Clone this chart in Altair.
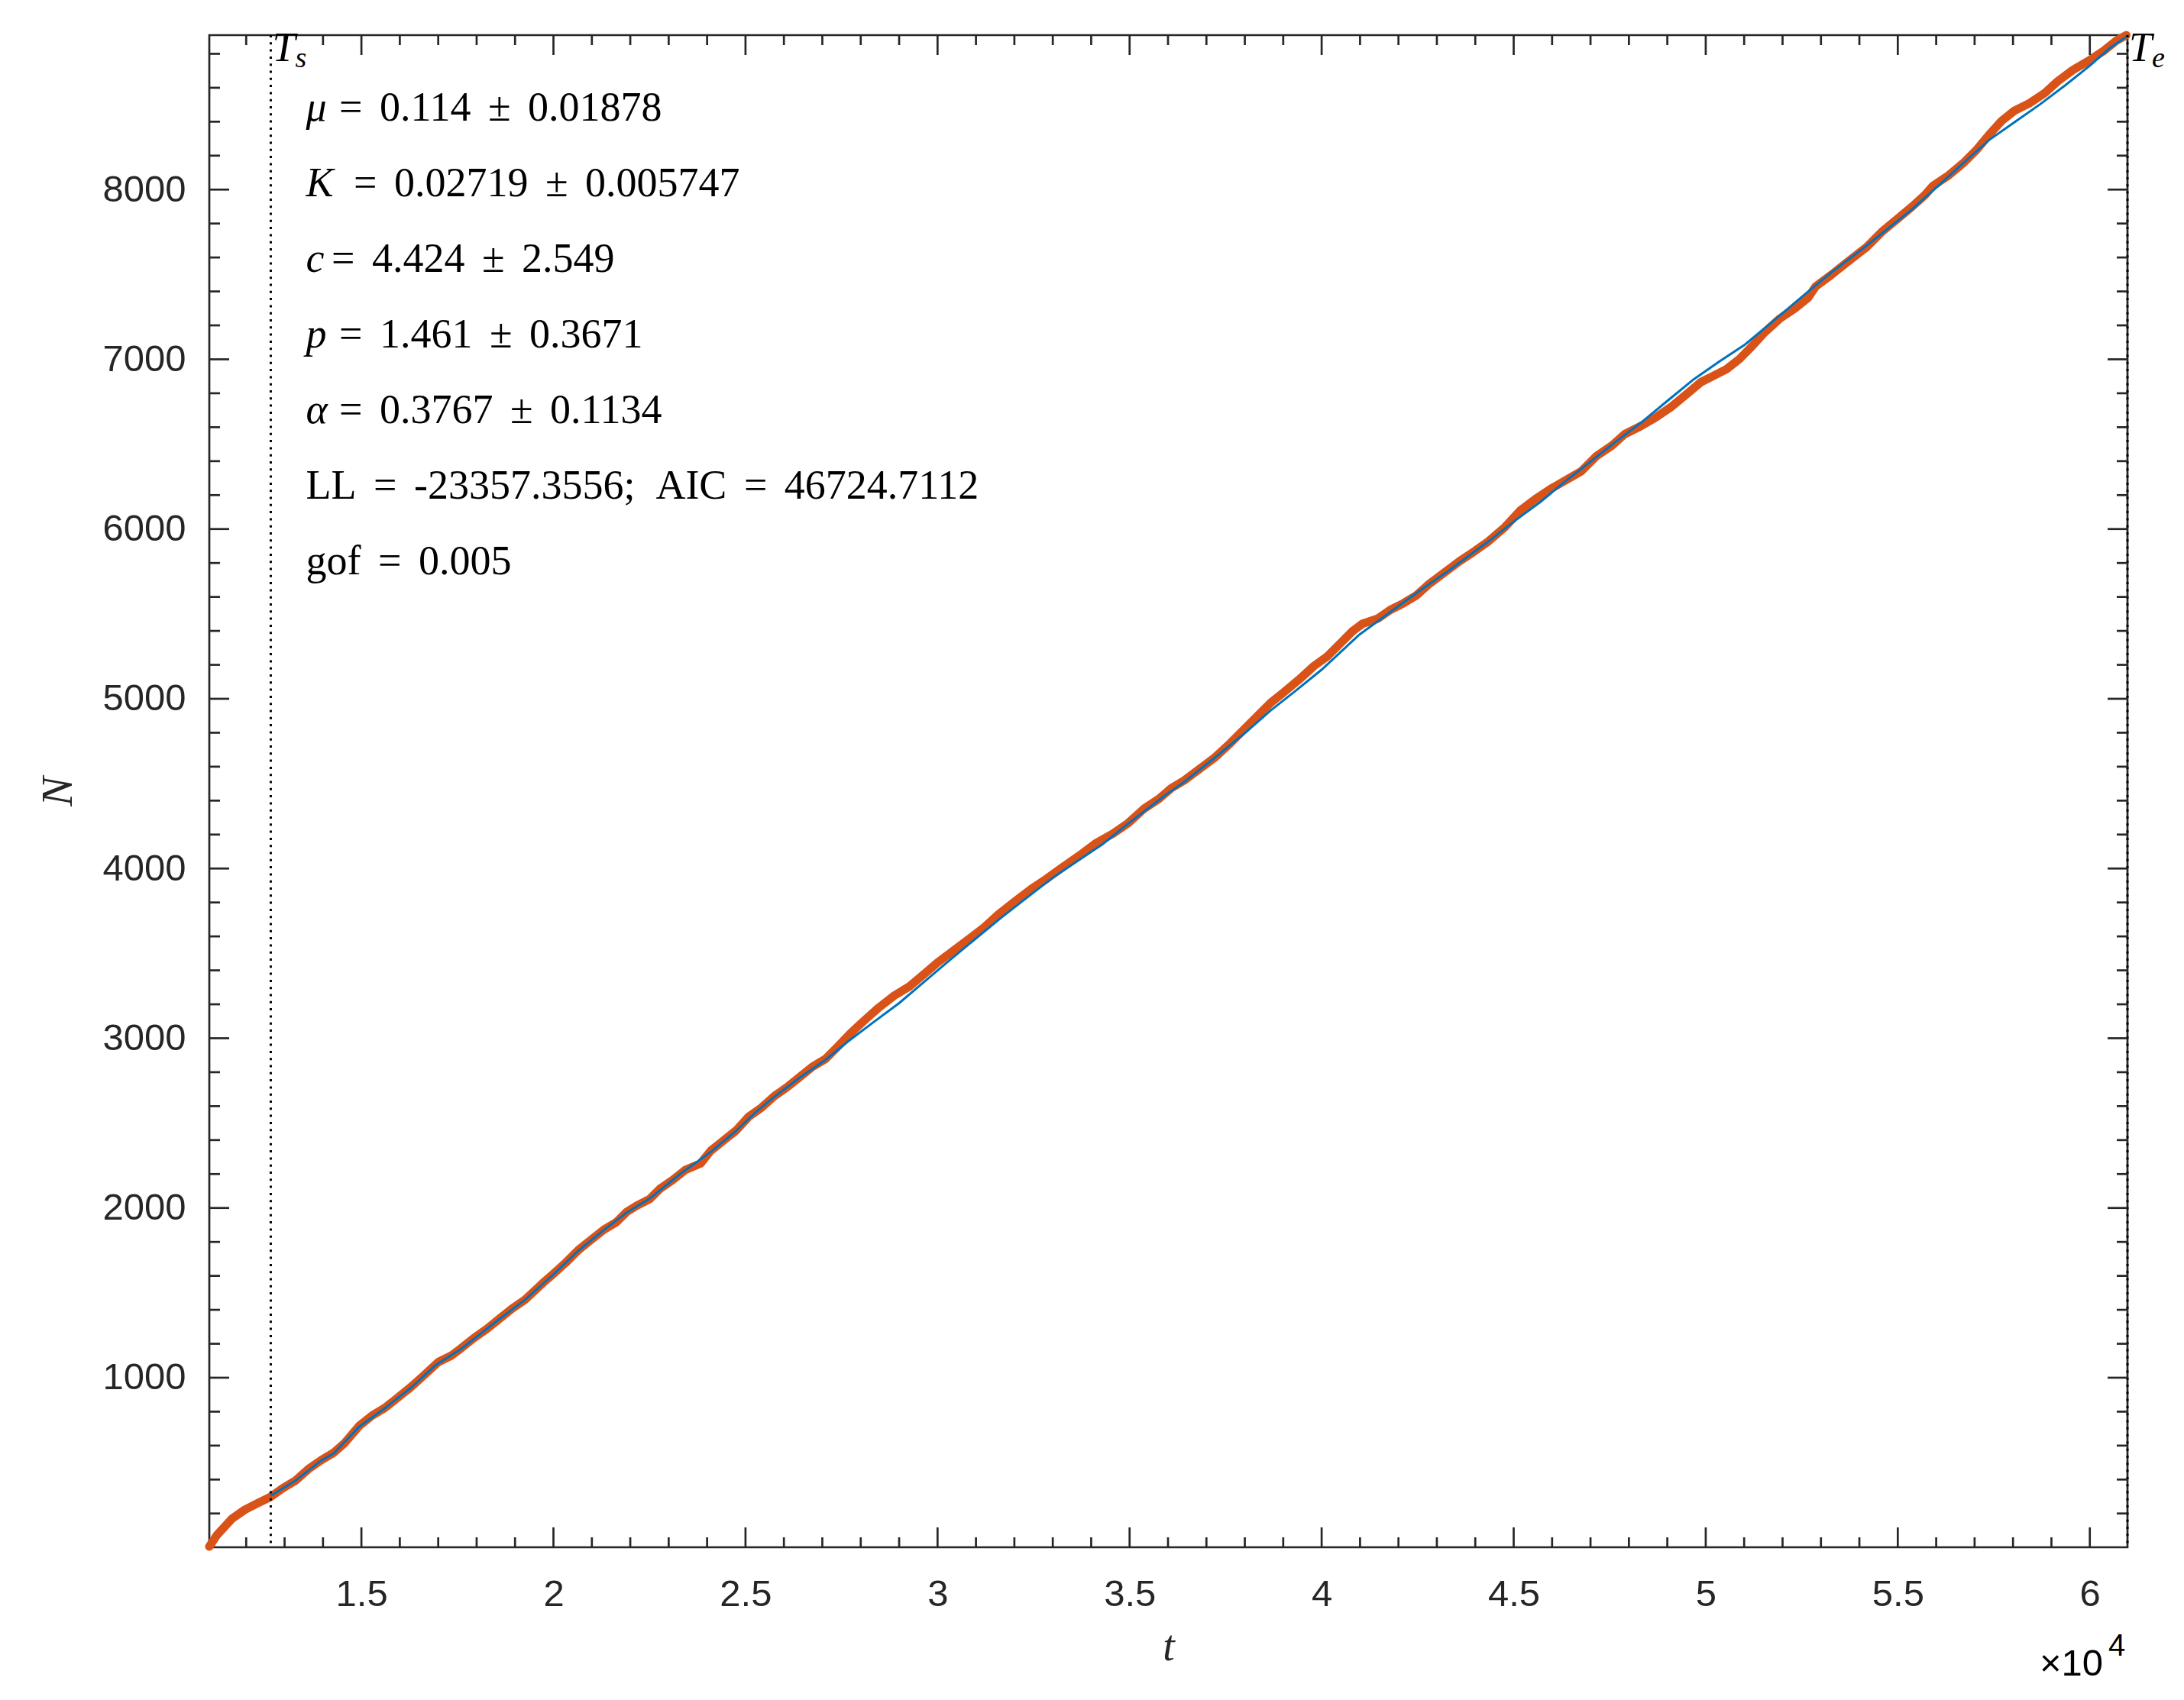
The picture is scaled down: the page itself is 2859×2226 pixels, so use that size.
import altair as alt
import pandas as pd

# ---------------- data ----------------
t_obs = [11040, 11235, 11633, 11965, 12297, 12627, 12959, 13291, 13621, 13953,
         14285, 14550, 14947, 15280, 15610, 15942, 16274, 16604, 17002, 17334,
         17598, 17930, 18262, 18592, 18924, 19256, 19720, 19984, 20316, 20648,
         20978, 21310, 21642, 21907, 22172, 22504, 22768, 23100, 23432, 23830,
         24094, 24426, 24758, 25088, 25420, 25751, 26083, 26415, 26745, 27077,
         27409, 27739, 28071, 28469, 28867, 29265, 29662, 29994, 30392, 30790,
         31187, 31585, 31983, 32446, 32844, 33307, 33705, 34103, 34568, 34966,
         35363, 35761, 36091, 36423, 36821, 37219, 37616, 38014, 38412, 38676,
         39008, 39406, 39804, 40135, 40533, 40798, 41063, 41461, 41792, 42124,
         42455, 42787, 43185, 43583, 43980, 44312, 44774, 45172, 45570, 45968,
         46366, 46763, 47161, 47559, 47890, 48288, 48686, 49084, 49482, 49879,
         50211, 50542, 50873, 51205, 51536, 51934, 52332, 52663, 52862, 53260,
         53723, 54186, 54584, 54982, 55380, 55711, 55910, 56308, 56705, 57037,
         57369, 57700, 58032, 58430, 58828, 59159, 59557, 59955, 60353, 60684,
         60950]
n_obs = [5, 72, 170, 222, 260, 297, 350, 395, 462, 514,
         559, 612, 717, 777, 822, 882, 942, 1009, 1092, 1129,
         1174, 1234, 1287, 1347, 1407, 1459, 1557, 1609, 1677, 1752,
         1812, 1872, 1917, 1977, 2014, 2052, 2112, 2164, 2224, 2262,
         2337, 2397, 2457, 2539, 2592, 2659, 2712, 2772, 2832, 2877,
         2952, 3030, 3100, 3180, 3250, 3305, 3380, 3445, 3512, 3580,
         3648, 3730, 3800, 3880, 3940, 4016, 4078, 4146, 4206, 4268,
         4350, 4410, 4474, 4519, 4587, 4654, 4737, 4827, 4917, 4977,
         5037, 5112, 5194, 5247, 5337, 5397, 5442, 5472, 5524, 5562,
         5607, 5674, 5742, 5809, 5869, 5922, 6012, 6109, 6177, 6237,
         6289, 6341, 6431, 6492, 6559, 6604, 6656, 6717, 6791, 6866,
         6904, 6942, 7001, 7077, 7159, 7241, 7302, 7362, 7429, 7496,
         7579, 7661, 7751, 7826, 7901, 7969, 8021, 8081, 8156, 8231,
         8321, 8404, 8464, 8509, 8569, 8637, 8704, 8757, 8816, 8876,
         8910]

t_fit = [12640, 13291, 13953, 14285, 14947, 15610, 16274, 16940, 17598, 17930,
         18592, 19256, 19984, 20648, 21310, 21907, 22504, 23299, 24094, 24758,
         25287, 25751, 26415, 27077, 27673, 28334, 29000, 29663, 30325, 30988,
         31651, 32314, 32977, 33640, 34301, 34966, 35960, 36423, 37351, 38014,
         38676, 39339, 40002, 40962, 41956, 42636, 43317, 44312, 45038, 45702,
         46366, 47028, 47691, 48354, 49017, 49680, 50342, 51005, 51834, 52663,
         53260, 54054, 54717, 55380, 56043, 56705, 57369, 58032, 58696, 59358,
         60021, 60500, 60980]
n_fit = [305, 395, 512, 555, 712, 820, 938, 1075, 1170, 1228,
         1345, 1458, 1605, 1748, 1870, 1973, 2055, 2200, 2330, 2455,
         2569, 2655, 2768, 2872, 2982, 3095, 3207, 3335, 3462, 3586,
         3709, 3826, 3942, 4044, 4144, 4265, 4437, 4510, 4677, 4800,
         4932, 5050, 5172, 5374, 5539, 5650, 5756, 5922, 6050, 6161,
         6285, 6402, 6520, 6634, 6758, 6881, 6985, 7084, 7240, 7399,
         7510, 7646, 7765, 7886, 8020, 8156, 8291, 8396, 8501, 8614,
         8734, 8830, 8906]

T_START = 12640
T_END = 60980
X_DOMAIN = [11040, 60980]
Y_DOMAIN = [1, 8910]

x_major = [15000, 20000, 25000, 30000, 35000, 40000, 45000, 50000, 55000, 60000]
x_minor = [v for v in range(12000, 61000, 1000) if v % 5000 != 0]
y_major = [1000, 2000, 3000, 4000, 5000, 6000, 7000, 8000]
y_minor = [v for v in range(200, 8901, 200) if v % 1000 != 0]

param_symbols = ["μ", "K", "c", "p", "α"]
param_values = ["0.114", "0.02719", "4.424", "1.461", "0.3767"]
param_errors = ["0.01878", "0.005747", "2.549", "0.3671", "0.1134"]
stat_lines = ["LL = -23357.3556; AIC = 46724.7112", "gof = 0.005"]

# ---------------- layout / style ----------------
W, H = 2511, 1980
AX = "#262626"
ORANGE = "#D95319"
BLUE = "#0072BD"
SERIF = "Liberation Serif"
SANS = "Liberation Sans"
TXT = 54

xs = alt.Scale(domain=X_DOMAIN, nice=False, zero=False)
ys = alt.Scale(domain=Y_DOMAIN, nice=False, zero=False)

obs = pd.DataFrame({"t": t_obs, "N": n_obs})
fit = pd.DataFrame({"t": t_fit, "N": n_fit})

x_axis = alt.Axis(values=x_major, labelExpr="datum.value / 10000", ticks=False,
                  domain=False, grid=False, labelFont=SANS, labelFontSize=49,
                  labelColor=AX, labelPadding=76, labelBaseline="alphabetic",
                  labelFlush=False, labelOverlap=False,
                  title="t", titleFont=SERIF, titleFontStyle="italic",
                  titleFontWeight="normal", titleFontSize=56, titleColor=AX,
                  titleX=W / 2, titleY=147, titleBaseline="alphabetic",
                  titleAlign="center")
y_axis = alt.Axis(values=y_major, format="d", ticks=False, domain=False,
                  grid=False, labelFont=SANS, labelFontSize=49, labelColor=AX,
                  labelPadding=31, labelOverlap=False,
                  title="N", titleFont=SERIF, titleFontStyle="italic",
                  titleFontWeight="normal", titleFontSize=58, titleColor=AX,
                  titleAngle=270, titleX=-181, titleY=H / 2,
                  titleBaseline="alphabetic", titleAlign="center")


def X(field):
    return alt.X(field, scale=xs, axis=x_axis)


def Y(field):
    return alt.Y(field, scale=ys, axis=y_axis)


observed = alt.Chart(obs).mark_line(
    color=ORANGE, strokeWidth=11, strokeCap="round", strokeJoin="round"
).encode(x=X("t:Q"), y=Y("N:Q"))

model = alt.Chart(fit).mark_line(color=BLUE, strokeWidth=3).encode(
    x=X("t:Q"), y=Y("N:Q"))

bounds = alt.Chart(pd.DataFrame({"t": [T_START, T_END]})).mark_rule(
    color="black", strokeWidth=3, strokeDash=[3, 6.3]
).encode(x=X("t:Q"))


def xticks(vals, y0, y1):
    return alt.Chart(pd.DataFrame({"t": vals})).mark_rule(
        color=AX, strokeWidth=2.7).encode(
        x=X("t:Q"), y=alt.value(y0), y2=alt.value(y1))


def yticks(vals, x0, x1):
    return alt.Chart(pd.DataFrame({"N": vals})).mark_rule(
        color=AX, strokeWidth=2.7).encode(
        y=Y("N:Q"), x=alt.value(x0), x2=alt.value(x1))


tick_layers = [
    xticks(x_major, H, H - 26), xticks(x_minor, H, H - 13),
    xticks(x_major, 0, 26), xticks(x_minor, 0, 13),
    yticks(y_major, 0, 26), yticks(y_minor, 0, 14),
    yticks(y_major, W, W - 26), yticks(y_minor, W, W - 14),
]


def label(text, x, y, size, style="normal", font=SERIF, align="left"):
    return alt.Chart(pd.DataFrame({"s": [text]})).mark_text(
        align=align, baseline="alphabetic", font=font, fontSize=size,
        fontStyle=style, color="black").encode(
        x=alt.value(x), y=alt.value(y), text="s:N")


gap = "\u2005\u2006"   # ~0.42 em, close to TeX math spacing
en = "\u2002"
rest_x = [170, 189, 160, 170, 170]
base_y = [111.5, 210.5, 309.5, 408.5, 507.5, 606.5, 705.5]
text_layers = []
for i, (sym, val, err) in enumerate(zip(param_symbols, param_values, param_errors)):
    text_layers.append(label(sym, 126.5, base_y[i], TXT, style="italic"))
    text_layers.append(label(f"={gap}{val}{gap}±{gap}{err}", rest_x[i], base_y[i], TXT))
for j, line in enumerate(stat_lines):
    s = line.replace(" = ", f"{gap}={gap}").replace("; ", f";{en}")
    text_layers.append(label(s, 126.5, base_y[5 + j], TXT))

# T_s / T_e markers
marks = pd.DataFrame({"t": [T_START, T_END], "main": ["T", "T"], "sub": ["s", "e"]})
t_main = alt.Chart(marks).mark_text(
    align="left", baseline="alphabetic", font=SERIF, fontSize=54,
    fontStyle="italic", color="black", dx=2).encode(
    x=X("t:Q"), y=alt.value(34), text="main:N")
t_sub = alt.Chart(marks).mark_text(
    align="left", baseline="alphabetic", font=SERIF, fontSize=38,
    fontStyle="italic", color="black", dx=32).encode(
    x=X("t:Q"), y=alt.value(41.5), text="sub:N")

# x10^4 exponent label
exp_layers = [
    label("×10", W - 32, H + 167.5, 49, font=SANS, align="right"),
    label("4", W - 25, H + 141.5, 40, font=SANS),
]

chart = alt.layer(
    observed, model, bounds, *tick_layers, *text_layers, t_main, t_sub, *exp_layers
).properties(
    width=W, height=H,
    background="white",
    autosize=alt.AutoSizeParams(type="none"),
    padding={"left": 266, "top": 38, "right": 66, "bottom": 192},
).configure_view(stroke=AX, strokeWidth=2.7)

chart.save("out.html", embed_options={"renderer": "svg", "actions": False})
